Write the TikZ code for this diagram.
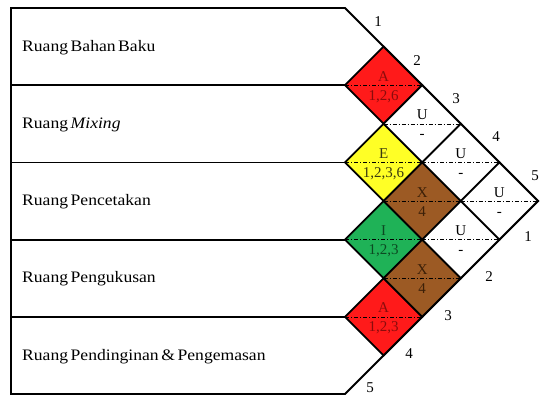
\documentclass[tikz,border=0pt]{standalone}
\usepackage{fontspec}
\setmainfont{Liberation Serif}
\newfontfamily\rowfont[FakeStretch=1.1]{Liberation Serif}
\usetikzlibrary{shapes.geometric}
\definecolor{arcred}{HTML}{FF1A1A}
\definecolor{arcyellow}{HTML}{FFFF26}
\definecolor{arcgreen}{HTML}{1FB257}
\definecolor{arcbrown}{HTML}{9C5A24}
\definecolor{txred}{HTML}{8A0C0C}
\definecolor{txyellow}{HTML}{3A3A10}
\definecolor{txgreen}{HTML}{0C4A22}
\definecolor{txbrown}{HTML}{3C2008}
\newcommand\tightspace{\spaceskip=0.16em\relax}
\newcommand\arccell[7]{%
  \node[cell, fill=#4] (#1) at (#2,#3) {};
  \draw[midline] (#1.west) -- (#1.east);
  \node[celltext, text=#7, anchor=base] (#1l) at ([yshift=4pt]#1.center) {#5};
  \node[celltext, text=#7, anchor=base] (#1r) at ([yshift=-15pt]#1.center) {#6};
}
\begin{document}
\begin{tikzpicture}[x=1pt,y=-1pt,
  cell/.style={diamond, shape aspect=1, draw=black, line width=1.8pt,
    minimum width=77.2pt, minimum height=77.2pt, inner sep=0pt, outer sep=0pt},
  midline/.style={line width=0.6pt, dash pattern=on 4pt off 2pt on 1pt off 2pt},
  celltext/.style={font=\fontsize{15}{16}\selectfont, inner sep=0pt},
  numtext/.style={font=\fontsize{15}{16}\selectfont, inner sep=0pt},
  rowtext/.style={font=\rowfont\fontsize{16}{18}\selectfont, anchor=west, inner sep=0pt},
  frame/.style={line width=1.8pt, line join=miter}]
\useasboundingbox (0,0) rectangle (540,396);
% frame
\coordinate (tl) at (11,8);
\coordinate (tr) at (345,8);
\coordinate (tip) at (538,201);
\coordinate (br) at (345,394);
\coordinate (bl) at (11,394);
\draw[frame] (tr) -- (tl) -- (bl) -- (br) -- (tip) -- cycle;
\foreach \k/\y in {1/85.2,2/162.4,3/239.6,4/316.8}{
  \coordinate (L\k) at (11,\y);
  \coordinate (R\k) at (345,\y);
  \draw[frame] (L\k) -- (R\k);
}
% cells: center x = 345+38.6(j-i), y = 8+38.6(i+j-1)
\arccell{d12}{383.6}{85.2}{arcred}{A}{1,2,6}{txred}
\arccell{d23}{383.6}{162.4}{arcyellow}{E}{1,2,3,6}{txyellow}
\arccell{d34}{383.6}{239.6}{arcgreen}{I}{1,2,3}{txgreen}
\arccell{d45}{383.6}{316.8}{arcred}{A}{1,2,3}{txred}
\arccell{d13}{422.2}{123.8}{white}{U}{-}{black}
\arccell{d24}{422.2}{201}{arcbrown}{X}{4}{txbrown}
\arccell{d35}{422.2}{278.2}{arcbrown}{X}{4}{txbrown}
\arccell{d14}{460.8}{162.4}{white}{U}{-}{black}
\arccell{d25}{460.8}{239.6}{white}{U}{-}{black}
\arccell{d15}{499.4}{201}{white}{U}{-}{black}
% row labels
\node[rowtext] (r1) at (22,48) {\tightspace Ruang Bahan Baku};
\node[rowtext] (r2) at (22,125) {\tightspace Ruang \textit{Mixing}};
\node[rowtext] (r3) at (22,202) {\tightspace Ruang Pencetakan};
\node[rowtext] (r4) at (22,279) {\tightspace Ruang Pengukusan};
\node[rowtext] (r5) at (22,357) {\tightspace Ruang Pendinginan\,\& Pengemasan};
% numbers
\node[numtext] (u1) at (378,22) {1};
\node[numtext] (u2) at (417,61) {2};
\node[numtext] (u3) at (456,99) {3};
\node[numtext] (u4) at (496,137) {4};
\node[numtext] (u5) at (535,176) {5};
\node[numtext] (w1) at (528,237) {1};
\node[numtext] (w2) at (489,277) {2};
\node[numtext] (w3) at (448,316) {3};
\node[numtext] (w4) at (409,354) {4};
\node[numtext] (w5) at (370,388) {5};
\end{tikzpicture}
\end{document}
